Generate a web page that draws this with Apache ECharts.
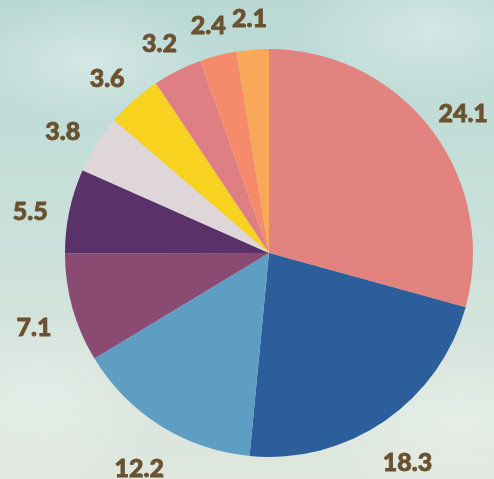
<!DOCTYPE html>
<html>
<head>
<meta charset="utf-8">
<script src="https://cdn.jsdelivr.net/npm/echarts@6/dist/echarts.min.js"></script>
<style>
html,body{margin:0;padding:0;width:494px;height:479px;overflow:hidden;}
body{
  background:
    radial-gradient(ellipse 120px 60px at 90px 60px, rgba(255,255,255,0.35), rgba(255,255,255,0)),
    radial-gradient(ellipse 140px 70px at 430px 30px, rgba(255,255,255,0.35), rgba(255,255,255,0)),
    radial-gradient(ellipse 120px 90px at 40px 400px, rgba(255,255,255,0.3), rgba(255,255,255,0)),
    radial-gradient(ellipse 160px 80px at 460px 420px, rgba(255,255,255,0.3), rgba(255,255,255,0)),
    linear-gradient(180deg, #bad9d5 0%, #c6dfd9 40%, #d6e4dc 75%, #dfe7de 100%);
}
#chart{width:494px;height:479px;}
</style>
</head>
<body>
<div id="chart"></div>
<script>
const categories = ['A', 'B', 'C', 'D', 'E', 'F', 'G', 'H', 'I', 'J'];
const values = [24.1, 18.3, 12.2, 7.1, 5.5, 3.8, 3.6, 3.2, 2.4, 2.1];
const colors = ['#e3837f', '#2c5e9c', '#5f9ec3', '#8a4b73', '#5b316a', '#ded6d9', '#f7d21f', '#e07f83', '#f68b6b', '#f9a857'];

const pieData = categories.map((c, i) => ({ name: c, value: values[i], itemStyle: { color: colors[i] } }));
const labelData = categories.map((c, i) => ({ name: c, value: values[i] }));

const chart = echarts.init(document.getElementById('chart'), null, { renderer: 'canvas' });
chart.setOption({
  backgroundColor: 'transparent',
  animation: false,
  series: [
    {
      type: 'pie',
      center: [269, 253],
      radius: [0, 204],
      startAngle: 90,
      clockwise: true,
      avoidLabelOverlap: false,
      label: { show: false },
      labelLine: { show: false },
      itemStyle: { borderWidth: 0 },
      emphasis: { disabled: true },
      data: pieData
    },
    {
      type: 'pie',
      silent: true,
      center: [269, 262],
      radius: [232, 250],
      startAngle: 90,
      clockwise: true,
      avoidLabelOverlap: false,
      itemStyle: { color: 'rgba(0,0,0,0)', borderWidth: 0 },
      label: {
        show: true,
        position: 'inside',
        formatter: p => String(p.value),
        color: '#6a5230',
        fontFamily: 'Lato',
        fontWeight: 900,
        fontSize: 25,
        textBorderColor: '#6a5230',
        textBorderWidth: 0.8
      },
      labelLine: { show: false },
      emphasis: { disabled: true },
      data: labelData
    }
  ]
});
</script>
</body>
</html>
